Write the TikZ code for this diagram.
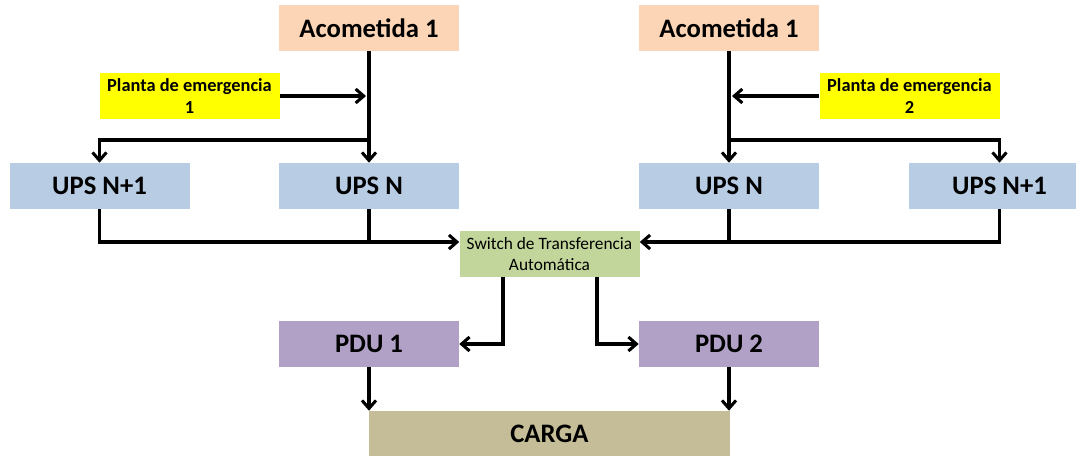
\documentclass[tikz,border=0pt]{standalone}
\usepackage{fontspec}
\setmainfont{Carlito}
\usetikzlibrary{arrows.meta,calc}
\definecolor{acomcol}{RGB}{251,213,181}
\definecolor{plantacol}{RGB}{255,255,0}
\definecolor{upscol}{RGB}{184,204,228}
\definecolor{switchcol}{RGB}{194,214,155}
\definecolor{producol}{RGB}{178,161,199}
\definecolor{cargacol}{RGB}{196,189,151}
\tikzset{
  caja/.style={minimum width=135pt,minimum height=34.5pt,inner sep=0pt,align=center},
  grande/.style={caja,font=\fontsize{20}{22}\selectfont\bfseries},
  chica/.style={caja,font=\fontsize{13.8}{16.5}\selectfont\bfseries},
  flecha/.style={line width=2.3pt,-{Straight Barb[length=6pt,width=10.5pt,line width=2.3pt]}},
  linea/.style={line width=2.3pt}
}
\begin{document}
\begin{tikzpicture}[x=0.75pt,y=-0.75pt]
\useasboundingbox (0,0) rectangle (1076,455);
\clip (0,0) rectangle (1076,455);
%
% acometidas y plantas
\node[grande,fill=acomcol] (acom1) at (369,28) {Acometida 1};
\node[grande,fill=acomcol] (acom2) at (729,28) {Acometida 1};
\node[chica,fill=plantacol] (planta1) at (189.5,96) {Planta de emergencia\\1};
\node[chica,fill=plantacol] (planta2) at (909.5,96) {Planta de emergencia\\2};
%
% UPS
\node[grande,fill=upscol] (upsA) at (99.5,186) {UPS N+1};
\node[grande,fill=upscol] (upsB) at (369,186) {UPS N};
\node[grande,fill=upscol] (upsC) at (729,186) {UPS N};
\node[grande,fill=upscol,minimum width=136pt] (upsD) at (999.5,186) {UPS N+1};
%
\node[caja,fill=switchcol,font=\fontsize{13}{16}\selectfont] (switch) at (549.5,254) {Switch de Transferencia\\Automática};
\node[grande,fill=producol] (pdu1) at (369,344) {PDU 1};
\node[grande,fill=producol] (pdu2) at (729,344) {PDU 2};
\node[grande,fill=cargacol,minimum width=271pt] (carga) at (549.5,434) {CARGA};
%
\coordinate (ramal) at (0,140);
\coordinate (bus) at (0,242);
%
% lado izquierdo
\draw[flecha] (acom1.south) -- (upsB.north);
\draw[flecha] (planta1.east) -- ($(planta1.east -| acom1.south)+(-3,0)$);
\draw[flecha] (ramal -| acom1.south) -| (upsA.north);
\draw[flecha] (upsA.south) |- (switch.west |- bus);
\draw[linea] (upsB.south) -- (upsB.south |- bus);
%
% lado derecho
\draw[flecha] (acom2.south) -- (upsC.north);
\draw[flecha] (planta2.west) -- ($(planta2.west -| acom2.south)+(3,0)$);
\draw[flecha] (ramal -| acom2.south) -| (upsD.north);
\draw[flecha] (upsD.south) |- (switch.east |- bus);
\draw[linea] (upsC.south) -- (upsC.south |- bus);
%
% salidas
\draw[flecha] ($(switch.south)+(-46.5,0)$) |- (pdu1.east);
\draw[flecha] ($(switch.south)+(47.5,0)$) |- (pdu2.west);
\draw[flecha] (pdu1.south) -- (pdu1.south |- carga.north);
\draw[flecha] (pdu2.south) -- (pdu2.south |- carga.north);
\end{tikzpicture}
\end{document}
